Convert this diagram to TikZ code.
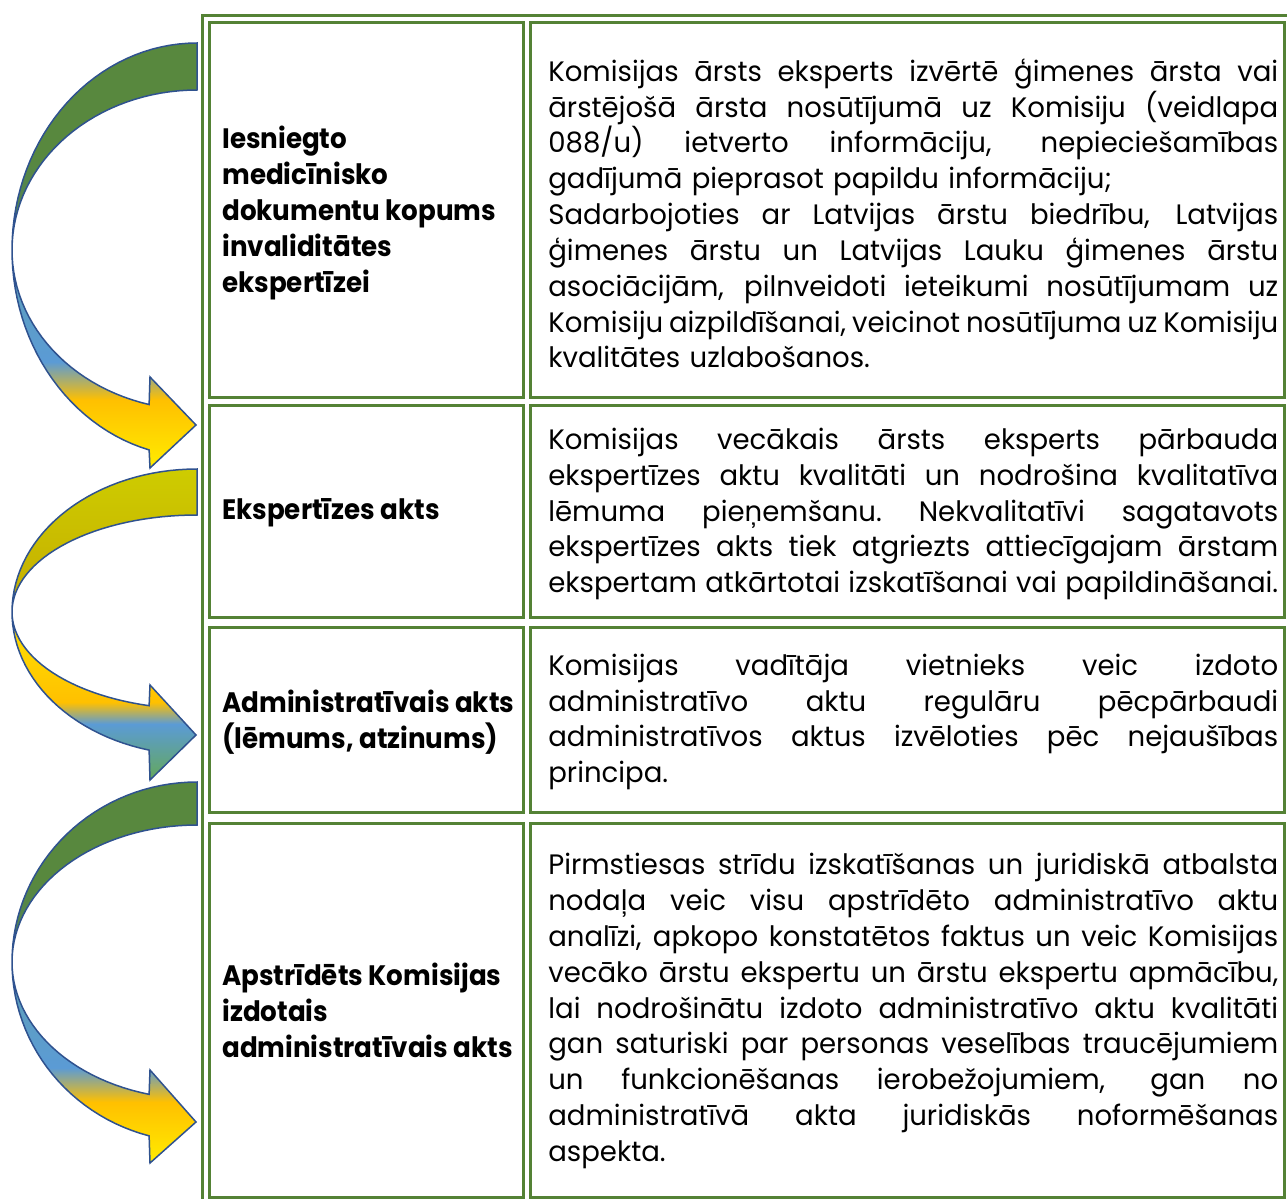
\documentclass[tikz,border=0pt]{standalone}
\usepackage{fontspec}
\setmainfont{Poppins}[UprightFeatures={FakeStretch=0.98},BoldFeatures={FakeStretch=0.93}]
\usetikzlibrary{calc}
\definecolor{tabgreen}{RGB}{84,130,53}
\definecolor{arrowedge}{RGB}{47,82,143}
\definecolor{agreen}{RGB}{88,136,62}
\definecolor{adark}{RGB}{78,128,100}
\definecolor{ateal}{RGB}{95,160,180}
\definecolor{ablue}{RGB}{91,155,213}
\definecolor{aorange}{RGB}{255,192,0}
\definecolor{ayellow}{RGB}{255,236,0}
\definecolor{bgreen}{RGB}{100,168,90}
\definecolor{bgold}{RGB}{196,172,0}
\definecolor{bolive}{RGB}{206,204,0}
\definecolor{byellow}{RGB}{255,214,0}
\pgfdeclareverticalshading{gbyA}{100bp}{color(0bp)=(ayellow); color(25bp)=(ayellow); color(33bp)=(aorange); color(37.5bp)=(ablue); color(50.6bp)=(ateal); color(51.2bp)=(adark); color(62bp)=(agreen); color(75bp)=(agreen); color(100bp)=(agreen)}
\pgfdeclareverticalshading{gbyB}{100bp}{color(0bp)=(bgreen); color(25bp)=(bgreen); color(34bp)=(ablue); color(37.5bp)=(aorange); color(46bp)=(byellow); color(51.8bp)=(byellow); color(52.3bp)=(bgold); color(75bp)=(bolive); color(100bp)=(bolive)}
\def\bentarrow[#1](#2,#3)(#4:#5)(#6:#7:#8){\draw[#1] plot[domain=90:255,samples=60] ({#2+185*cos(\x)},{#3-#4*sin(\x)}) -- (150,#8) -- (196,#7) -- (150,#6) -- plot[domain=255:90,samples=60] ({#2+185*cos(\x)},{#3-#5*sin(\x)}) -- cycle;}
\def\jbox#1{\leavevmode\hbox to 14.6cm{\spaceskip=\fontdimen2\font plus 1fill minus \fontdimen4\font\relax\xspaceskip=\spaceskip #1}}
\def\jl#1{\jbox{#1}\\}

\begin{document}
\begin{tikzpicture}[x=0.02cm,y=-0.02cm,
	cellframe/.style={draw=tabgreen,line width=0.06cm},
	arrowA/.style={shade,shading=gbyA,draw=arrowedge,line width=0.03cm},
	arrowB/.style={shade,shading=gbyB,draw=arrowedge,line width=0.03cm},
	headtext/.style={anchor=west,align=left,inner sep=0pt,font=\bfseries\fontsize{16}{20.4}\selectfont},
	bodytext/.style={anchor=west,align=left,inner sep=0pt,text width=14.6cm,font=\fontsize{16}{20.4}\selectfont}]
		%%%%% START %%%%%
		\useasboundingbox (0,0) rectangle (1287,1199);
		\clip (0,0) rectangle (1287,1199);
		
		\draw[cellframe] (202,1230) -- (202,16) -- (1300,16);
		
		\draw[cellframe] (209,23) rectangle (523,397);
		\draw[cellframe] (530,23) rectangle (1284,397);
		\draw[cellframe] (209,405) rectangle (523,617);
		\draw[cellframe] (530,405) rectangle (1284,617);
		\draw[cellframe] (209,627) rectangle (523,812);
		\draw[cellframe] (530,627) rectangle (1284,812);
		\draw[cellframe] (209,823) rectangle (523,1197);
		\draw[cellframe] (530,823) rectangle (1284,1197);
		
		\node[headtext] (h1) at (222,213) {Iesniegto\\medicīnisko\\dokumentu kopums\\invaliditātes\\ekspertīzei};
		\node[bodytext] (b1) at (548,213.5) {\jl{Komisijas ārsts eksperts izvērtē ģimenes ārsta vai}\jl{ārstējošā ārsta nosūtījumā uz Komisiju (veidlapa}\jl{088/u) ietverto informāciju, nepieciešamības}gadījumā pieprasot papildu informāciju;\\\jl{Sadarbojoties ar Latvijas ārstu biedrību, Latvijas}\jl{ģimenes ārstu un Latvijas Lauku ģimenes ārstu}\jl{asociācijām, pilnveidoti ieteikumi nosūtījumam uz}\jl{Komisiju aizpildīšanai, veicinot nosūtījuma uz Komisiju}kvalitātes uzlabošanos.};
		
		\node[headtext] (h2) at (222,513) {Ekspertīzes akts};
		\node[bodytext] (b2) at (548,514) {\jl{Komisijas vecākais ārsts eksperts pārbauda}\jl{ekspertīzes aktu kvalitāti un nodrošina kvalitatīva}\jl{lēmuma pieņemšanu. Nekvalitatīvi sagatavots}\jl{ekspertīzes akts tiek atgriezts attiecīgajam ārstam}\jbox{ekspertam atkārtotai izskatīšanai vai papildināšanai.}};
		
		\node[headtext] (h3) at (222,722) {Administratīvais akts\\(lēmums, atzinums)};
		\node[bodytext] (b3) at (548,722) {\jl{Komisijas vadītāja vietnieks veic izdoto}\jl{administratīvo aktu regulāru pēcpārbaudi}\jl{administratīvos aktus izvēloties pēc nejaušības}principa.};
		
		\node[headtext] (h4) at (222,1010) {Apstrīdēts Komisijas\\izdotais\\administratīvais akts};
		\node[bodytext] (b4) at (548,1011) {\jl{Pirmstiesas strīdu izskatīšanas un juridiskā atbalsta}\jl{nodaļa veic visu apstrīdēto administratīvo aktu}\jl{analīzi, apkopo konstatētos faktus un veic Komisijas}\jl{vecāko ārstu ekspertu un ārstu ekspertu apmācību,}\jl{lai nodrošinātu izdoto administratīvo aktu kvalitāti}\jl{gan saturiski par personas veselības traucējumiem}\jl{un funkcionēšanas ierobežojumiem, gan no}\jl{administratīvā akta juridiskās noformēšanas}aspekta.};
		
		\bentarrow[arrowA](197,250)(207:160)(377:425:468)
		\bentarrow[arrowB](197,612)(143:97)(685:735:780)
		\bentarrow[arrowA](197,962)(180:137)(1070:1122:1163)
		%%%%% END %%%%%
	\end{tikzpicture}
\end{document}
